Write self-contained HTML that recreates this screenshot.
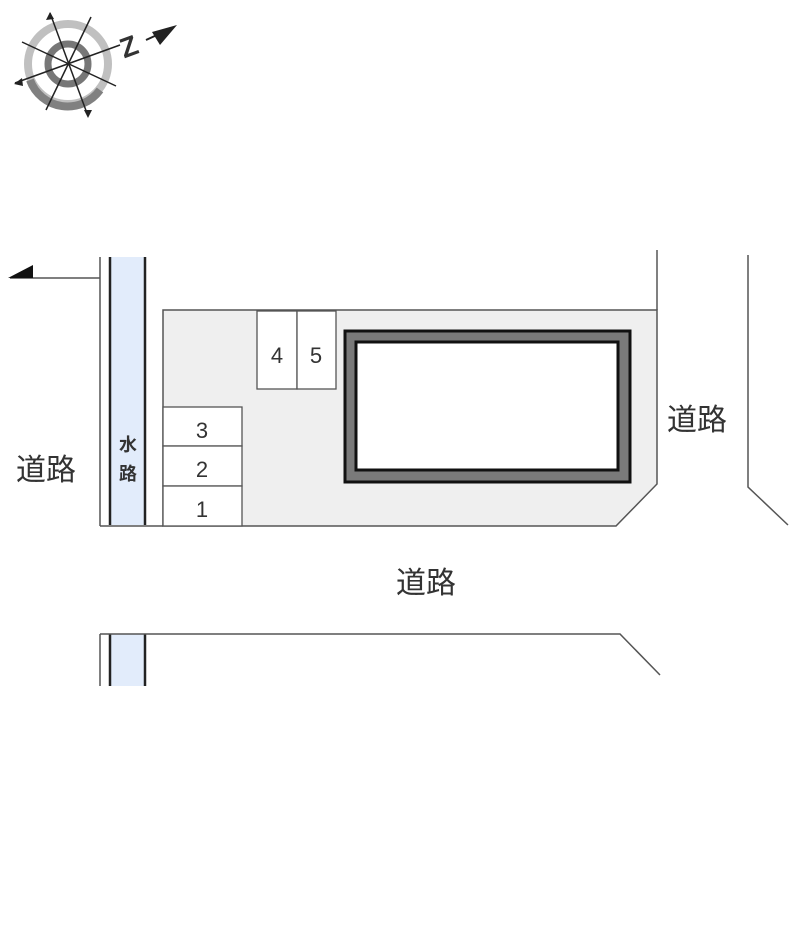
<!DOCTYPE html>
<html><head><meta charset="utf-8"><style>
body{margin:0;background:#fff;width:800px;height:940px;overflow:hidden}
svg text{font-family:"Liberation Sans","Noto Sans CJK JP",sans-serif;fill:#333}
</style></head><body>
<svg width="800" height="940" viewBox="0 0 800 940">
<!-- compass -->
<g>
<circle cx="68" cy="64" r="40" fill="none" stroke="#c0c0c0" stroke-width="8"/>
<path d="M30 80 A40 40 0 0 0 100 90" fill="none" stroke="#808080" stroke-width="8"/>
<circle cx="68" cy="64" r="20" fill="none" stroke="#777" stroke-width="7"/>
<g stroke="#222" stroke-width="1.5">
<line x1="50" y1="13" x2="88" y2="116"/>
<line x1="91" y1="17" x2="46" y2="110"/>
<line x1="22" y1="42" x2="116" y2="86"/>
<line x1="15" y1="83" x2="120" y2="45"/>
</g>
<polygon points="50,12 46,20 54,19" fill="#222"/>
<polygon points="88,118 84,110 92,110" fill="#222"/>
<polygon points="14,84 22,78 23,86" fill="#222"/>
<text x="120" y="55" font-size="28" font-weight="bold" fill="#222" transform="rotate(-20 132 45)">Z</text>
<line x1="146" y1="40" x2="170" y2="29" stroke="#222" stroke-width="2"/>
<polygon points="152,32 177,25 160,45" fill="#222"/>
</g>
<!-- arrow -->
<line x1="10" y1="278" x2="100" y2="278" stroke="#555" stroke-width="1.5"/>
<polygon points="8,278 33,265 33,278" fill="#111"/>
<!-- water channel -->
<rect x="110" y="257" width="35" height="268" fill="#e2ecfb"/>
<rect x="110" y="634" width="35" height="52" fill="#e2ecfb"/>
<g stroke="#222" stroke-width="2.5">
<line x1="110" y1="257" x2="110" y2="525"/><line x1="145" y1="257" x2="145" y2="525"/>
<line x1="110" y1="634" x2="110" y2="686"/><line x1="145" y1="634" x2="145" y2="686"/>
</g>
<g stroke="#555" stroke-width="1.5" fill="none">
<line x1="100" y1="257" x2="100" y2="526"/>
<line x1="100" y1="634" x2="100" y2="686"/>
<polyline points="100,634 620,634 660,675"/>
<polyline points="748,255 748,487 788,525"/>
</g>
<!-- lot -->
<polygon points="163,310 657,310 657,484 616,526 163,526" fill="#efefef" stroke="#555" stroke-width="1.5"/>
<line x1="657" y1="250" x2="657" y2="310" stroke="#555" stroke-width="1.5"/>
<line x1="100" y1="526" x2="163" y2="526" stroke="#555" stroke-width="1.5"/>
<!-- spaces -->
<g fill="#fff" stroke="#555" stroke-width="1.3">
<rect x="257" y="311" width="40" height="78"/><rect x="297" y="311" width="39" height="78"/>
<rect x="163" y="407" width="79" height="39"/><rect x="163" y="446" width="79" height="40"/><rect x="163" y="486" width="79" height="40"/>
</g>
<g font-size="22" text-anchor="middle">
<text x="277" y="363">4</text><text x="316" y="363">5</text>
<text x="202" y="438">3</text><text x="202" y="477">2</text><text x="202" y="517">1</text>
</g>
<!-- building -->
<rect x="345" y="331" width="285" height="151" fill="#7a7a7a" stroke="#111" stroke-width="3"/>
<rect x="356" y="342" width="262" height="128" fill="#fff" stroke="#111" stroke-width="3"/>
<!-- labels -->
<g font-size="30">
<text x="16" y="480">道路</text>
<text x="667" y="430">道路</text>
<text x="396" y="593">道路</text>
</g>
<g font-size="18" font-weight="bold" text-anchor="middle" fill="#222">
<text x="128" y="451">水</text><text x="128" y="480">路</text>
</g>
</svg>
</body></html>
